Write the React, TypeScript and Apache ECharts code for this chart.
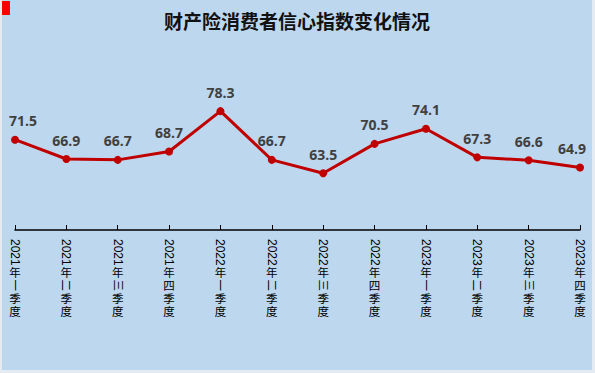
import React, { useEffect, useRef } from "react";
import * as echarts from "echarts";

const titleText = "财产险消费者信心指数变化情况";
const categories = [
  "2021年一季度", "2021年二季度", "2021年三季度", "2021年四季度",
  "2022年一季度", "2022年二季度", "2022年三季度", "2022年四季度",
  "2023年一季度", "2023年二季度", "2023年三季度", "2023年四季度",
];
const values = [71.5, 66.9, 66.7, 68.7, 78.3, 66.7, 63.5, 70.5, 74.1, 67.3, 66.6, 64.9];

const CJK = '"Noto Sans CJK SC", "Liberation Sans", sans-serif';
const AXISFONT = '"Liberation Sans", "Noto Sans CJK SC", sans-serif';

export default function App() {
  const ref = useRef<HTMLDivElement>(null);
  useEffect(() => {
    if (!ref.current) return;
    const chart = echarts.init(ref.current, undefined, { renderer: "svg" });
    const last = values.length - 1;
    const seriesData = values.map((v, i) => {
      if (i === 0) return { value: v, label: { offset: [8, 0] } };
      if (i === last) return { value: v, label: { offset: [-8, 0] } };
      return v;
    });
    const labelBase = { fontFamily: AXISFONT, fontSize: 11.5, color: "#000" };
    const extraAxis = (label: any) => ({
      type: "category",
      data: categories,
      boundaryGap: false,
      position: "bottom",
      axisLine: { show: false },
      axisTick: { show: false },
      axisLabel: { ...labelBase, interval: 0, ...label },
    });
    const isFour = (v: string) => v.slice(5, 6) === "四";
    chart.setOption({
      animation: false,
      backgroundColor: "#BDD7EE",
      title: {
        text: titleText,
        left: "center",
        top: 6,
        textStyle: { fontFamily: CJK, fontSize: 19, fontWeight: "bold", color: "#111" },
      },
      graphic: [
        { type: "rect", left: 0, top: 1, shape: { width: 8, height: 14 }, style: { fill: "#FF0000" } },
      ],
      grid: { left: 13, right: 12, top: 62, bottom: 140, containLabel: false },
      xAxis: [
        {
          type: "category",
          data: categories,
          boundaryGap: false,
          position: "bottom",
          axisLine: { lineStyle: { color: "#000", width: 1.5 } },
          axisTick: { inside: true, length: 5, interval: 0, lineStyle: { color: "#000" } },
          axisLabel: {
            ...labelBase,
            fontSize: 12,
            interval: 0,
            rotate: -90,
            margin: 9,
            formatter: (v: string) => v.slice(0, 4),
          },
        },
        extraAxis({ margin: 36, lineHeight: 13, formatter: (v: string) => v.slice(4, 5) }),
        extraAxis({ margin: 49.5, rotate: -90, formatter: (v: string) => (isFour(v) ? "" : v.slice(5, 6)) }),
        extraAxis({ margin: 49, lineHeight: 13, formatter: (v: string) => (isFour(v) ? v.slice(5, 6) : "") }),
        extraAxis({ margin: 62, lineHeight: 13, formatter: (v: string) => v.slice(6).split("").join("\n") }),
      ],
      yAxis: { type: "value", min: 50, max: 90, show: false },
      series: [
        {
          type: "line",
          xAxisIndex: 0,
          data: seriesData,
          symbol: "circle",
          symbolSize: 8,
          itemStyle: { color: "#C00000" },
          lineStyle: { color: "#C00000", width: 3 },
          label: {
            show: true,
            position: "top",
            distance: 8,
            fontFamily: '"Open Sans", "Liberation Sans", sans-serif',
            fontWeight: "bold",
            fontSize: 14,
            color: "#404040",
            formatter: (p: any) => Number(p.value).toFixed(1),
          },
        },
      ],
    });
    return () => chart.dispose();
  }, []);
  return (
    <div style={{ position: "fixed", left: 0, top: 0, width: 595, height: 373, background: "#E4EBF2" }}>
      <div ref={ref} style={{ position: "absolute", left: 2, top: 0, width: 590, height: 370 }} />
    </div>
  );
}
